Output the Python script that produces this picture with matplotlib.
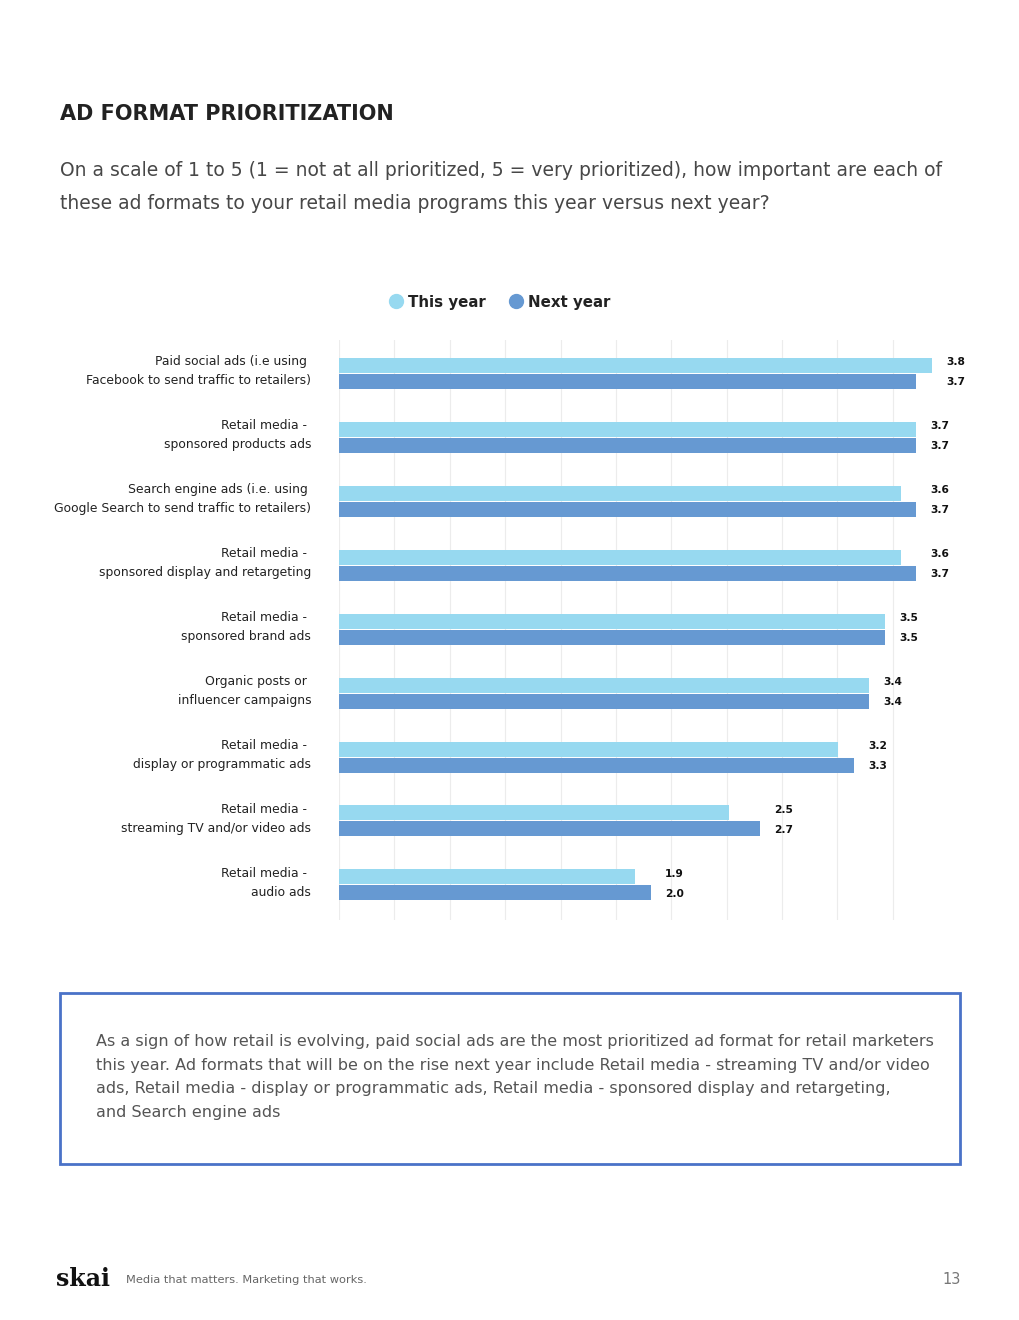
import matplotlib
matplotlib.use("Agg")
import matplotlib.pyplot as plt
from matplotlib.lines import Line2D
from matplotlib.patches import Rectangle

plt.rcParams['font.family'] = ['DejaVu Sans']

categories = [
    "Paid social ads (i.e using \nFacebook to send traffic to retailers)",
    "Retail media - \nsponsored products ads",
    "Search engine ads (i.e. using \nGoogle Search to send traffic to retailers)",
    "Retail media - \nsponsored display and retargeting",
    "Retail media - \nsponsored brand ads",
    "Organic posts or \ninfluencer campaigns",
    "Retail media - \ndisplay or programmatic ads",
    "Retail media - \nstreaming TV and/or video ads",
    "Retail media - \naudio ads",
]
this_year = [3.8, 3.7, 3.6, 3.6, 3.5, 3.4, 3.2, 2.5, 1.9]
next_year = [3.7, 3.7, 3.7, 3.7, 3.5, 3.4, 3.3, 2.7, 2.0]

light = "#97d9f0"
dark = "#6699d2"
W, H = 1020, 1320


def fx(x):
    return x / W


def fy(y):
    return 1 - y / H


fig = plt.figure(figsize=(W / 100, H / 100), dpi=100)

fig.text(fx(60), fy(114), "AD FORMAT PRIORITIZATION", fontsize=15, fontweight='bold',
         color="#222222", va='center', ha='left')
fig.text(fx(60), fy(187),
         "On a scale of 1 to 5 (1 = not at all prioritized, 5 = very prioritized), how important are each of\n"
         "these ad formats to your retail media programs this year versus next year?",
         fontsize=13.5, color="#474747", va='center', ha='left', linespacing=1.95)

# chart area
ax = fig.add_axes([fx(339), fy(920), (963 - 339) / W, 580 / H])
ypos = list(range(len(categories)))
bh = 15 / 64
off = 8 / 64
ax.barh([y - off for y in ypos], this_year, height=bh, color=light, zorder=2)
ax.barh([y + off for y in ypos], next_year, height=bh, color=dark, zorder=2)

for y, t, n in zip(ypos, this_year, next_year):
    xl = max(t, n) + 0.09
    ax.text(xl, y - off - 0.04, f"{t:.1f}", fontsize=7.7, fontweight='bold', color="#111111",
            va='center', ha='left')
    ax.text(xl, y + off + 0.02, f"{n:.1f}", fontsize=7.7, fontweight='bold', color="#111111",
            va='center', ha='left')

ax.set_xlim(0, 4)
ax.set_ylim(len(categories) - 1 + 0.547, -0.516)
ax.set_xticks([i * 0.355 for i in range(11)])
ax.set_xticklabels([])
ax.grid(axis='x', color="#ececec", linewidth=0.8, zorder=0)
ax.set_yticks([y - 0.1 for y in ypos])
ax.set_yticklabels(categories, fontsize=8.9, color="#222222")
for lbl in ax.get_yticklabels():
    lbl.set_linespacing(1.55)
ax.tick_params(axis='both', length=0)
ax.tick_params(axis='y', pad=20)
for s in ax.spines.values():
    s.set_visible(False)

handles = [
    Line2D([], [], marker='o', linestyle='', markersize=10, color=light, label="This year"),
    Line2D([], [], marker='o', linestyle='', markersize=10, color=dark, label="Next year"),
]
fig.legend(handles=handles, loc='center', bbox_to_anchor=(fx(496), fy(302)), ncol=2,
           frameon=False, handletextpad=-0.2, columnspacing=1.0,
           prop={'size': 10.8, 'weight': 'semibold'}, labelcolor="#222222")

# note box
fig.add_artist(Rectangle((fx(60), fy(1164)), 900 / W, 171 / H, transform=fig.transFigure,
                         fill=False, edgecolor="#4a72c8", linewidth=2))
fig.text(fx(96), fy(1077),
         "As a sign of how retail is evolving, paid social ads are the most prioritized ad format for retail marketers\n"
         "this year. Ad formats that will be on the rise next year include Retail media - streaming TV and/or video\n"
         "ads, Retail media - display or programmatic ads, Retail media - sponsored display and retargeting,\n"
         "and Search engine ads",
         fontsize=11.5, color="#555555", va='center', ha='left', linespacing=1.72)

# footer
fig.text(fx(56), fy(1279), "skai", fontsize=17, fontweight='heavy', family='DejaVu Serif',
         color="#111111", va='center', ha='left')
fig.text(fx(126), fy(1280), "Media that matters. Marketing that works.", fontsize=8.2,
         color="#666666", va='center', ha='left')
fig.text(fx(961), fy(1280), "13", fontsize=10.5, color="#777777", va='center', ha='right')

fig.savefig("out.png", dpi=100, facecolor='white')
